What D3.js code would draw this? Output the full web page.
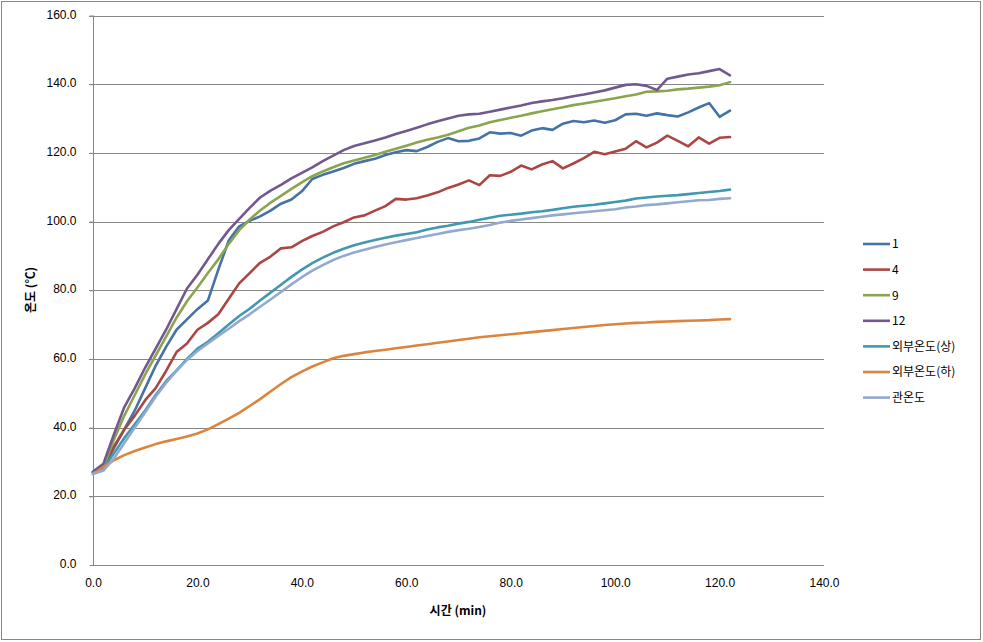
<!DOCTYPE html>
<html><head><meta charset="utf-8">
<script src="https://cdn.jsdelivr.net/npm/d3@7"></script>
<style>
body{margin:0;background:#fff;}
svg{display:block;}
text{font-family:"Liberation Sans",Arial,sans-serif;}
</style></head>
<body>
<svg id="c" width="983" height="642"></svg>
<script>
// time (min)
const times = [0,2,4,6,8,10,12,14,16,18,20,22,24,26,28,30,32,34,36,38,40,42,44,46,48,50,52,54,56,58,60,62,64,66,68,70,72,74,76,78,80,82,84,86,88,90,92,94,96,98,100,102,104,106,108,110,112,114,116,118,120,122];
const xTicks = [0,20,40,60,80,100,120,140];
const yTicks = [0,20,40,60,80,100,120,140,160];
const seriesNames = ["1","4","9","12","외부온도(상)","외부온도(하)","관온도"];
const seriesColors = ["#4572A7","#AA4643","#89A54E","#71588F","#4198AF","#DB843D","#93A9CF"];

const s1 = [27,28.2,34,39.5,45,51.5,58,63.5,68.5,71.5,74.5,77,86,94.5,98.6,100.2,101.5,103.2,105.2,106.4,108.8,112.4,113.6,114.6,115.6,116.8,117.6,118.3,119.4,120.2,120.8,120.5,121.7,123.2,124.3,123.4,123.5,124.2,126,125.6,125.8,125,126.5,127.2,126.7,128.5,129.3,128.9,129.4,128.8,129.5,131.2,131.4,130.8,131.5,131,130.6,131.8,133.2,134.5,130.5,132.3];
const s4 = [27,29,34.5,39.5,43.5,48,51.5,56.5,62,64.5,68.5,70.5,73,77.5,82,85,88,89.8,92.2,92.5,94.3,95.8,97,98.6,99.8,101.2,101.8,103.2,104.5,106.6,106.4,106.8,107.6,108.5,109.8,110.8,112,110.6,113.5,113.3,114.5,116.3,115.2,116.6,117.6,115.5,116.9,118.5,120.3,119.6,120.4,121.2,123.4,121.6,123,125,123.5,121.9,124.5,122.7,124.4,124.6];
const s9 = [27,28.5,36.5,43.5,49.5,55.5,61,66.5,72,76.8,80.8,85,89,93.5,97.5,100.6,103.2,105.5,107.5,109.5,111.4,113.2,114.6,115.8,117,117.8,118.6,119.4,120.3,121.2,122.1,123,123.8,124.5,125.3,126.3,127.3,128,128.9,129.6,130.2,130.8,131.5,132.1,132.7,133.3,133.9,134.4,134.9,135.4,135.9,136.5,137,137.8,137.9,138.1,138.5,138.7,139,139.3,139.7,140.6];
const s12 = [27.2,29.5,38,46,51.5,57.5,63,68.5,74.5,80.5,84.5,89,93.5,97.5,100.8,104,107,109,110.7,112.6,114.2,115.8,117.6,119.2,120.8,122,122.8,123.6,124.5,125.5,126.4,127.3,128.3,129.2,130,130.8,131.2,131.4,132,132.6,133.2,133.8,134.5,135,135.4,135.9,136.5,137,137.6,138.2,139,139.8,140,139.5,138.3,141.6,142.2,142.8,143.2,143.8,144.4,142.6];
const sUpper = [26.8,28,32.5,37,41,45,49.5,53.5,56.7,60,63,65,67.5,70,72.5,74.6,77,79.3,81.6,83.9,86,87.9,89.5,90.9,92.1,93.1,93.9,94.6,95.3,95.9,96.4,96.9,97.7,98.3,98.8,99.4,99.9,100.5,101.1,101.7,102,102.3,102.7,103,103.4,103.9,104.3,104.6,104.9,105.3,105.7,106.1,106.7,107,107.3,107.5,107.7,108,108.3,108.6,108.9,109.3];
const sLower = [26.5,28.5,30.5,32,33.2,34.2,35.2,36,36.7,37.4,38.3,39.5,41,42.6,44.3,46.3,48.3,50.5,52.7,54.7,56.3,57.8,59,60.2,60.9,61.4,61.9,62.3,62.7,63.1,63.5,63.9,64.3,64.7,65.1,65.5,65.9,66.3,66.6,66.9,67.2,67.5,67.8,68.1,68.4,68.7,69,69.3,69.6,69.9,70.1,70.3,70.5,70.6,70.8,70.9,71,71.1,71.2,71.3,71.5,71.6];
const sPipe = [26.5,27.5,31,35.5,40,44.5,49,53,56.5,59.7,62.3,64.5,66.7,68.8,71,73,75.2,77.3,79.5,81.7,83.8,85.7,87.3,88.8,90,91,91.8,92.6,93.3,94,94.6,95.2,95.8,96.4,97,97.5,97.9,98.4,99,99.7,100.2,100.6,101,101.4,101.8,102.1,102.4,102.7,103,103.3,103.6,104.1,104.4,104.8,105,105.3,105.6,105.9,106.2,106.3,106.6,106.8];
const seriesValues = [s1,s4,s9,s12,sUpper,sLower,sPipe];

const svg = d3.select("#c");
const grid = "#868686";
svg.append("rect").attr("x",1.5).attr("y",1.5).attr("width",979).attr("height",638)
  .attr("fill","#fff").attr("stroke",grid).attr("stroke-width",1);

const x = d3.scaleLinear().domain([0,140]).range([93,824]);
const y = d3.scaleLinear().domain([0,160]).range([565,15.5]);

// gridlines
svg.append("g").selectAll("line").data(yTicks.filter(d=>d>0)).join("line")
  .attr("x1",89).attr("x2",824)
  .attr("y1",d=>Math.round(y(d))+0.5).attr("y2",d=>Math.round(y(d))+0.5)
  .attr("stroke",grid).attr("stroke-width",1);

// y axis
const yAxis = svg.append("g").attr("transform","translate(93.5,0)")
  .call(d3.axisLeft(y).tickValues(yTicks).tickSize(4).tickPadding(13).tickFormat(d3.format(".1f")));
yAxis.select(".domain").attr("stroke",grid).attr("d","M0,15.5V565.5");
yAxis.selectAll(".tick line").attr("stroke",grid);
yAxis.selectAll(".tick text").attr("font-size",12).attr("fill","#000").attr("dy","0.55em").attr("transform","translate(0,-4)");

// x axis
const xAxis = svg.append("g").attr("transform","translate(0,565.5)")
  .call(d3.axisBottom(x).tickValues(xTicks).tickSize(0).tickPadding(13).tickFormat(d3.format(".1f")));
xAxis.select(".domain").attr("stroke",grid).attr("d","M93,0H824");
xAxis.selectAll(".tick text").attr("font-size",12).attr("fill","#000");

// lines
const line = d3.line().x((d,i)=>x(times[i])).y(d=>y(d));
seriesValues.forEach((vals,k)=>{
  svg.append("path").datum(vals).attr("d",line)
    .attr("fill","none").attr("stroke",seriesColors[k]).attr("stroke-width",2.6)
    .attr("stroke-linejoin","round").attr("stroke-linecap","round");
});

// axis titles
svg.append("text").attr("x",458).attr("y",615).attr("text-anchor","middle")
  .attr("font-size",12).attr("font-weight","bold")
  .style("font-family","'Noto Sans CJK KR',sans-serif").text("시간 (min)");
svg.append("text").attr("transform","translate(35,290) rotate(-90)").attr("text-anchor","middle")
  .attr("font-size",12).attr("font-weight","bold")
  .style("font-family","'Noto Sans CJK KR',sans-serif").text("온도 (℃)");

// legend
const leg = svg.append("g");
seriesNames.forEach((n,i)=>{
  const yy = 244 + i*25.6;
  leg.append("line").attr("x1",863).attr("x2",890).attr("y1",yy).attr("y2",yy)
    .attr("stroke",seriesColors[i]).attr("stroke-width",2.6);
  leg.append("text").attr("x",892).attr("y",yy).attr("dy","0.36em").attr("font-size",12)
    .style("font-family","'Noto Sans CJK KR',sans-serif").attr("fill","#000").text(n);
});
</script>
</body></html>
